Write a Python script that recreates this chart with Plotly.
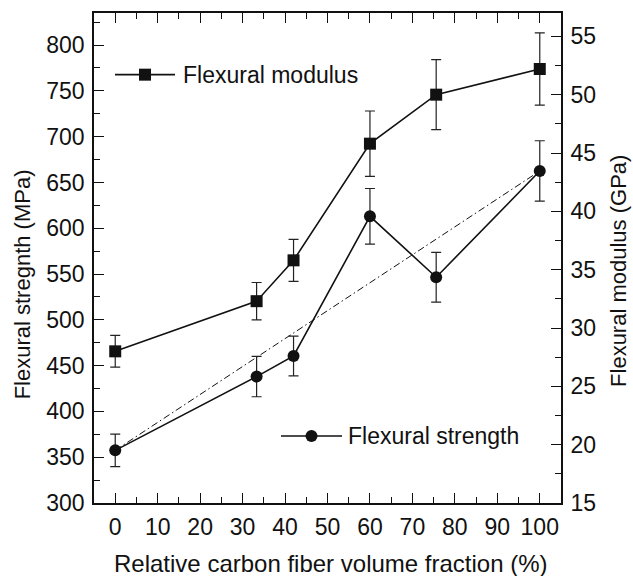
import plotly.graph_objects as go

# ---- data ----
fraction = [0, 33.3, 42, 60, 75.6, 100]
modulus_gpa = [28.0, 32.3, 35.8, 45.8, 50.0, 52.2]
modulus_err = [1.36, 1.6, 1.8, 2.8, 3.0, 3.1]
strength_mpa = [357.5, 438, 460.5, 613, 546.5, 662.5]
strength_err = [17.8, 22, 21.7, 30.4, 27.2, 33]
trend_x = [0, 100]
trend_y = [357.5, 662.5]

x_ticks = [0, 10, 20, 30, 40, 50, 60, 70, 80, 90, 100]
y_ticks = [300, 350, 400, 450, 500, 550, 600, 650, 700, 750, 800]
y2_ticks = [15, 20, 25, 30, 35, 40, 45, 50, 55]

FONT = "Liberation Sans, Arial, sans-serif"
FS = 23
INK = "#111111"

fig = go.Figure()

fig.add_trace(go.Scatter(
    x=trend_x, y=trend_y, mode="lines",
    line=dict(color=INK, width=1, dash="7px,3px,1.5px,3px"),
    showlegend=False, hoverinfo="skip"))

fig.add_trace(go.Scatter(
    x=fraction, y=strength_mpa, mode="lines+markers", name="Flexural strength",
    line=dict(color=INK, width=1.6),
    marker=dict(symbol="circle", size=12, color=INK),
    error_y=dict(type="data", array=strength_err, visible=True,
                 color="#222222", thickness=1.2, width=5),
    showlegend=False))

fig.add_trace(go.Scatter(
    x=fraction, y=modulus_gpa, mode="lines+markers", name="Flexural modulus",
    yaxis="y2",
    line=dict(color=INK, width=1.6),
    marker=dict(symbol="square", size=12, color=INK),
    error_y=dict(type="data", array=modulus_err, visible=True,
                 color="#222222", thickness=1.2, width=5),
    showlegend=False))

# legend samples drawn on a hidden pixel-space overlay
L = 94; R = 561; T = 10.7; B = 503.3
leg_items = [
    dict(name="Flexural modulus", x0=115, x1=175, y=72.7, symbol="square", tx=181),
    dict(name="Flexural strength", x0=281, x1=342, y=436, symbol="circle", tx=346),
]
for it in leg_items:
    fig.add_trace(go.Scatter(
        x=[it["x0"], it["x1"]], y=[it["y"]] * 2, xaxis="x3", yaxis="y3",
        mode="lines", line=dict(color=INK, width=1.6),
        showlegend=False, hoverinfo="skip"))
    fig.add_trace(go.Scatter(
        x=[(it["x0"] + it["x1"]) / 2], y=[it["y"]], xaxis="x3", yaxis="y3",
        mode="markers", marker=dict(symbol=it["symbol"], size=12, color=INK),
        showlegend=False, hoverinfo="skip"))
    fig.add_annotation(
        x=it["tx"], y=it["y"], xref="x3", yref="y3",
        text=it["name"], showarrow=False, xanchor="left", yanchor="middle",
        font=dict(family=FONT, size=FS, color=INK))

axis_common = dict(
    showline=True, linecolor=INK, linewidth=1.6,
    ticks="inside", ticklen=10, tickwidth=1.4, tickcolor=INK,
    showgrid=False, zeroline=False, ticklabelstandoff=3,
    tickfont=dict(family=FONT, size=FS, color=INK),
)

fig.update_layout(
    width=633, height=576,
    margin=dict(l=94, r=72, t=11, b=73),
    paper_bgcolor="white", plot_bgcolor="white",
    xaxis=dict(range=[-5, 105], tickvals=x_ticks, mirror="ticks",
               minor=dict(dtick=5, ticks="inside", ticklen=6, tickwidth=1.4, tickcolor=INK),
               **axis_common),
    yaxis=dict(range=[300, 835], tickvals=y_ticks, mirror=True,
               minor=dict(dtick=25, ticks="inside", ticklen=6, tickwidth=1.4, tickcolor=INK),
               **axis_common),
    yaxis2=dict(range=[15, 57], tickvals=y2_ticks, overlaying="y", side="right",
                minor=dict(dtick=2.5, ticks="inside", ticklen=6, tickwidth=1.4, tickcolor=INK),
                **axis_common),
    xaxis3=dict(range=[L, R], overlaying="x", visible=False, fixedrange=True),
    yaxis3=dict(range=[B, T], overlaying="y", visible=False, fixedrange=True),
    showlegend=False,
)

def px2paper(px, py):
    return (px - L) / (R - L), (B - py) / (B - T)

titles = [
    ("Relative carbon fiber volume fraction (%)", 330.5, 564, 0, 24),
    ("Flexural stregnth (MPa)", 22, 283.5, -90, 22),
    ("Flexural modulus (GPa)", 619, 270, -90, 22),
]
for text, px, py, ang, fs in titles:
    ax, ay = px2paper(px, py)
    fig.add_annotation(x=ax, y=ay, xref="paper", yref="paper", text=text,
                       showarrow=False, textangle=ang, xanchor="center", yanchor="middle",
                       font=dict(family=FONT, size=fs, color=INK))

fig.write_html("out.html")
